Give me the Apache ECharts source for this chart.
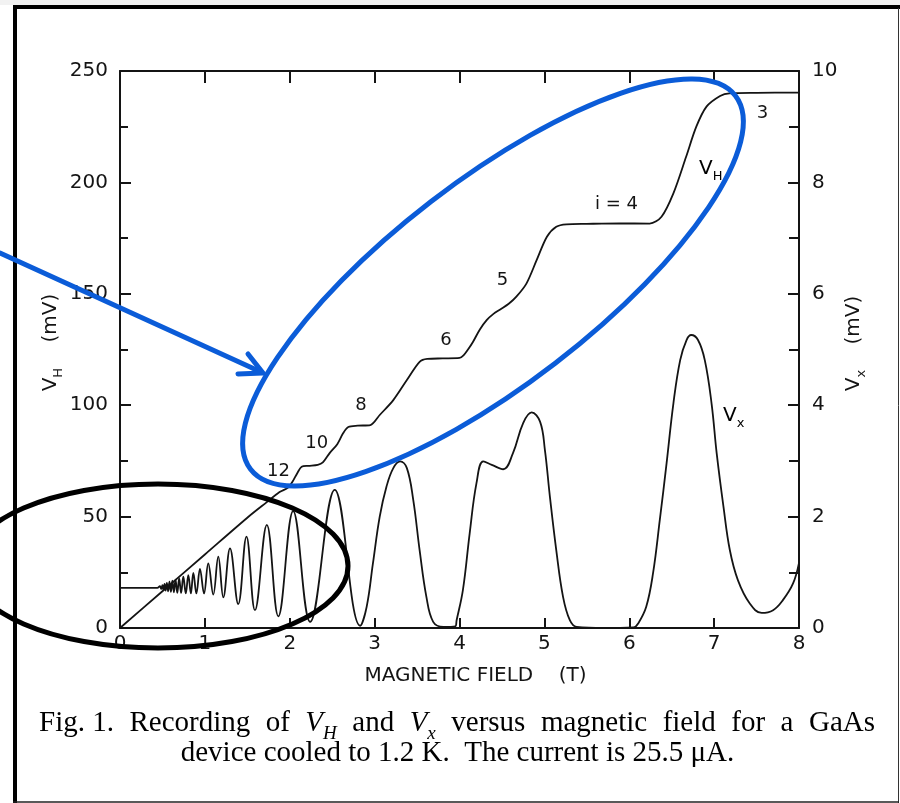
<!DOCTYPE html>
<html>
<head>
<meta charset="utf-8">
<title>V_H and V_x versus magnetic field</title>
<script src="https://cdn.jsdelivr.net/npm/echarts@6/dist/echarts.min.js"></script>
<style>
html, body { margin: 0; padding: 0; background: #fff; }
#chart { width: 900px; height: 803px; }
</style>
</head>
<body>
<div id="chart"></div>
<script>
// Hall voltage trace: field (T) and V_H (mV)
var hallField = [0, 0.5, 1.0, 1.5, 1.73, 1.88, 1.98, 2.03, 2.09, 2.14, 2.22, 2.33, 2.39, 2.47, 2.56, 2.63, 2.69, 2.8, 2.95, 3.06,
    3.22, 3.38, 3.53, 3.62, 3.8, 4.0, 4.05, 4.1, 4.16, 4.24, 4.32, 4.4, 4.48, 4.58, 4.67, 4.79, 4.91, 5.03, 5.14, 5.26,
    5.5, 5.89, 6.24, 6.38, 6.52, 6.67, 6.79, 6.91, 7.07, 7.18, 7.5, 8.0];
var hallMV = [0, 16.5, 33, 49.5, 56.5, 61, 63, 65.5, 69.6, 72.4, 72.8, 73.2, 74.3, 78.5, 82.5, 87.5, 90.2, 90.8, 91.1, 95.6,
    102.3, 111.3, 119.5, 120.8, 121, 121.2, 122.5, 125, 128.5, 134, 138.2, 141, 143, 145.5, 148.7, 154.7, 165.2, 175.6, 180.1, 181.2,
    181.4, 181.6, 181.5, 184.6, 195.1, 211.5, 225, 234, 238.8, 240, 240.2, 240.3];

// longitudinal voltage trace: field (T) and V_x (mV, right scale)
var vxField = [0, 0.44, 0.47, 0.485, 0.5, 0.512, 0.525, 0.538, 0.552, 0.567, 0.583, 0.6, 0.617, 0.635, 0.654, 0.675, 0.697, 0.72,
    0.746, 0.775, 0.805, 0.835, 0.864, 0.9, 0.942, 0.99, 1.04, 1.099, 1.158, 1.217, 1.296, 1.393, 1.49, 1.59, 1.73, 1.865,
    2.04, 2.24, 2.53, 2.83, 2.906, 2.98, 3.06, 3.14, 3.22, 3.3, 3.38, 3.455, 3.53, 3.61, 3.69, 3.81, 3.95, 3.966,
    4.04, 4.12, 4.2, 4.28, 4.38, 4.515, 4.63, 4.75, 4.85, 4.95, 5.006, 5.065, 5.14, 5.22, 5.3, 5.38, 5.7, 6.05,
    6.105, 6.2, 6.28, 6.36, 6.44, 6.52, 6.6, 6.675, 6.73, 6.81, 6.89, 6.97, 7.03, 7.11, 7.185, 7.28, 7.42, 7.56,
    7.695, 7.81, 7.93, 8.0];
var vxMV = [0.72, 0.72, 0.75, 0.7, 0.77, 0.68, 0.79, 0.67, 0.81, 0.66, 0.83, 0.65, 0.85, 0.64, 0.87, 0.63, 0.89, 0.63,
    0.92, 0.62, 0.95, 0.62, 0.99, 0.62, 1.06, 0.62, 1.16, 0.6, 1.28, 0.55, 1.43, 0.43, 1.64, 0.32, 1.85, 0.21,
    2.1, 0.11, 2.48, 0.04, 0.38, 1.16, 2.0, 2.54, 2.87, 2.99, 2.87, 2.3, 1.4, 0.56, 0.11, 0.02, 0.03, 0.14,
    0.68, 1.7, 2.6, 2.99, 2.93, 2.85, 3.14, 3.68, 3.87, 3.7, 3.2, 2.36, 1.4, 0.56, 0.14, 0.02, 0.0, 0.01,
    0.08, 0.38, 0.98, 1.94, 2.96, 4.03, 4.81, 5.17, 5.26, 5.17, 4.81, 4.03, 3.14, 2.18, 1.4, 0.86, 0.44, 0.27,
    0.32, 0.5, 0.8, 1.17];

// filling-factor labels written along the V_H trace (field, mV)
var stepLabels = ['12', '10', '8', '6', '5', 'i = 4', '3'];
var stepLabelField = [1.867, 2.317, 2.84, 3.84, 4.505, 5.85, 7.57];
var stepLabelMV = [70.2, 82.9, 100, 129.3, 155.9, 190.1, 231];

var captionLine1 = ['Fig. 1.', 'Recording', 'of', 'VH', 'and', 'Vx', 'versus', 'magnetic', 'field', 'for', 'a', 'GaAs'];
var captionLine2 = 'device cooled to 1.2 K.  The current is 25.5 \u03bcA.';

var FONT = 'DejaVu Sans';
var SERIF = 'Liberation Serif';
var ink = '#141414';
var blue = '#0b5cd8';

function pairs(xs, ys) {
    var d = [];
    for (var i = 0; i < xs.length; i++) {
        d.push([xs[i], ys[i]]);
    }
    return d;
}

var dom = document.getElementById('chart');
var myChart = echarts.init(dom, null, {renderer: 'canvas'});

var axisLineStyle = {color: ink, width: 2};
var subRich = {
    v: {fontFamily: FONT, fontSize: 20, color: ink, lineHeight: 22, verticalAlign: 'top'},
    s: {fontFamily: FONT, fontSize: 13, color: ink, lineHeight: 13, padding: [11, 0, 0, 0], verticalAlign: 'top'}
};

var option = {
    animation: false,
    backgroundColor: '#ffffff',
    grid: {left: 120, right: 101, top: 71, bottom: 175},
    xAxis: [{
        type: 'value',
        position: 'bottom',
        min: 0, max: 8, interval: 1,
        name: 'MAGNETIC FIELD    (T)',
        nameLocation: 'middle',
        nameGap: 38,
        nameMoveOverlap: false,
        nameTextStyle: {fontFamily: FONT, fontSize: 20, color: ink, padding: [0, 0, 0, 32]},
        axisLine: {show: true, onZero: false, lineStyle: axisLineStyle},
        axisTick: {show: true, inside: true, length: 10, lineStyle: axisLineStyle},
        axisLabel: {fontFamily: FONT, fontSize: 20, color: ink, margin: 6},
        splitLine: {show: false}
    }, {
        type: 'value',
        position: 'top',
        min: 0, max: 8, interval: 1,
        axisLine: {show: true, onZero: false, lineStyle: axisLineStyle},
        axisTick: {show: true, inside: true, length: 12, lineStyle: axisLineStyle},
        axisLabel: {show: false},
        splitLine: {show: false}
    }],
    yAxis: [{
        type: 'value',
        position: 'left',
        min: 0, max: 250, interval: 50,
        name: '{v|V}{s|H}{v|    (mV)}',
        nameLocation: 'middle',
        nameRotate: 90,
        nameGap: 57,
        nameMoveOverlap: false,
        nameTextStyle: {rich: subRich, padding: [0, 0, 0, 14]},
        axisLine: {show: true, onZero: false, lineStyle: axisLineStyle},
        axisTick: {show: true, inside: true, length: 11, lineStyle: axisLineStyle},
        minorTick: {show: true, splitNumber: 2, length: 8, lineStyle: axisLineStyle},
        axisLabel: {fontFamily: FONT, fontSize: 20, color: ink, margin: 12},
        splitLine: {show: false},
        minorSplitLine: {show: false}
    }, {
        type: 'value',
        position: 'right',
        min: 0, max: 10, interval: 2,
        name: '{v|V}{s|x}{v|    (mV)}',
        nameLocation: 'middle',
        nameRotate: 90,
        nameGap: 45,
        nameMoveOverlap: false,
        nameTextStyle: {rich: subRich, padding: [0, 0, 0, 12]},
        axisLine: {show: true, onZero: false, lineStyle: axisLineStyle},
        axisTick: {show: true, inside: true, length: 11, lineStyle: axisLineStyle},
        minorTick: {show: true, splitNumber: 2, length: 10, lineStyle: axisLineStyle},
        axisLabel: {fontFamily: FONT, fontSize: 20, color: ink, margin: 13},
        splitLine: {show: false},
        minorSplitLine: {show: false}
    }],
    series: [{
        name: 'VH',
        type: 'line',
        xAxisIndex: 0,
        yAxisIndex: 0,
        data: pairs(hallField, hallMV),
        smooth: 0.3,
        showSymbol: false,
        lineStyle: {color: ink, width: 1.8}
    }, {
        name: 'Vx',
        type: 'line',
        xAxisIndex: 0,
        yAxisIndex: 1,
        data: pairs(vxField, vxMV),
        smooth: 0.4,
        showSymbol: false,
        lineStyle: {color: ink, width: 1.8}
    }]
};
myChart.setOption(option);

function px(b, v) {
    return myChart.convertToPixel({xAxisIndex: 0, yAxisIndex: 0}, [b, v]);
}

var marks = [];

// frame of the scanned figure
marks.push({type: 'rect', shape: {x: 0, y: 0, width: 900, height: 5}, style: {fill: '#f2f2f2'}, z: 90});
marks.push({type: 'rect', shape: {x: 13, y: 5, width: 887, height: 4}, style: {fill: '#000'}, z: 90});
marks.push({type: 'rect', shape: {x: 13, y: 5, width: 4, height: 798}, style: {fill: '#000'}, z: 90});
marks.push({type: 'line', shape: {x1: 898.5, y1: 8, x2: 898.5, y2: 803}, style: {stroke: '#333', lineWidth: 1}, z: 90});
marks.push({type: 'line', shape: {x1: 13, y1: 802, x2: 899, y2: 802}, style: {stroke: '#222', lineWidth: 1.5}, z: 90});

// labels along the traces
for (var i = 0; i < stepLabels.length; i++) {
    var p = px(stepLabelField[i], stepLabelMV[i]);
    marks.push({
        type: 'text', x: p[0], y: p[1], z: 50,
        style: {text: stepLabels[i], font: '18px "' + FONT + '"', fill: ink, textAlign: 'center', textVerticalAlign: 'middle'}
    });
}
var pVH = px(6.96, 205.6);
var pVX = px(7.23, 94.8);
[[pVH, 'H'], [pVX, 'x']].forEach(function (item) {
    marks.push({
        type: 'text', x: item[0][0], y: item[0][1] - 11, z: 50,
        style: {
            text: '{v|V}{s|' + item[1] + '}',
            textAlign: 'center', textVerticalAlign: 'top',
            rich: subRich
        }
    });
});

// caption, first line justified across the page
var ctx = document.createElement('canvas').getContext('2d');
function measure(t, italic, size) {
    ctx.font = (italic ? 'italic ' : '') + size + 'px "' + SERIF + '"';
    return ctx.measureText(t).width;
}
var capSize = 29;
var capRich = {
    r: {fontFamily: SERIF, fontSize: capSize, color: '#111', lineHeight: 30, verticalAlign: 'top'},
    i: {fontFamily: SERIF, fontSize: capSize, fontStyle: 'italic', color: '#111', lineHeight: 30, verticalAlign: 'top'},
    s: {fontFamily: SERIF, fontSize: 19, fontStyle: 'italic', color: '#111', lineHeight: 20, padding: [15, 0, 0, 0], verticalAlign: 'top'}
};
var words = captionLine1.map(function (w) {
    if (w === 'VH' || w === 'Vx') {
        return {text: '{i|V}{s|' + w.charAt(1) + '}', width: measure('V', true, capSize) + measure(w.charAt(1), true, 19)};
    }
    return {text: '{r|' + w + '}', width: measure(w, false, capSize)};
});
var lineLeft = 39, lineRight = 875;
var used = words.reduce(function (a, w) { return a + w.width; }, 0);
var gap = (lineRight - lineLeft - used) / (words.length - 1);
var cursor = lineLeft;
words.forEach(function (w) {
    marks.push({
        type: 'text', x: cursor, y: 709, z: 50,
        style: {text: w.text, rich: capRich, textAlign: 'left', textVerticalAlign: 'top'}
    });
    cursor += w.width + gap;
});
marks.push({
    type: 'text', x: 457.5, y: 739, z: 50,
    style: {text: '{r|' + captionLine2 + '}', rich: capRich, textAlign: 'center', textVerticalAlign: 'top'}
});

// hand-drawn highlight marks
marks.push({
    type: 'ellipse', x: 493, y: 282.5, rotation: 37.6 * Math.PI / 180, z: 100,
    shape: {cx: 0, cy: 0, rx: 306, ry: 102},
    style: {fill: 'none', stroke: blue, lineWidth: 5}
});
marks.push({
    type: 'polyline', z: 100,
    shape: {points: [[0, 253], [261, 372]]},
    style: {stroke: blue, lineWidth: 5, lineCap: 'round', fill: 'none'}
});
marks.push({
    type: 'polyline', z: 100,
    shape: {points: [[238, 374], [263, 373], [248, 354]]},
    style: {stroke: blue, lineWidth: 5, lineCap: 'round', lineJoin: 'round', fill: 'none'}
});
marks.push({
    type: 'ellipse', x: 158, y: 566, z: 100,
    shape: {cx: 0, cy: 0, rx: 190, ry: 82},
    style: {fill: 'none', stroke: '#000', lineWidth: 5}
});

myChart.setOption({graphic: marks});
</script>
</body>
</html>
